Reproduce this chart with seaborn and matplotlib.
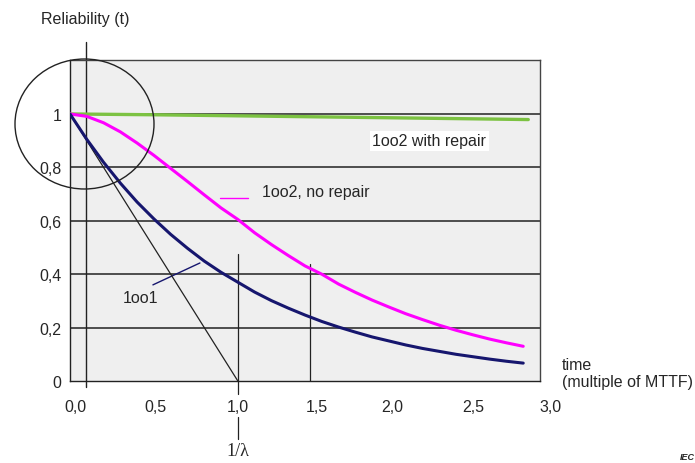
import matplotlib
matplotlib.use("Agg")
import matplotlib.pyplot as plt
from matplotlib.patches import Ellipse
import seaborn as sns

# time in multiples of MTTF
t = [0.0, 0.1, 0.2, 0.3, 0.4, 0.5, 0.6, 0.7, 0.8, 0.9, 1.0, 1.1, 1.2, 1.3,
     1.4, 1.5, 1.6, 1.7, 1.8, 1.9, 2.0, 2.1, 2.2, 2.3, 2.4, 2.5, 2.6, 2.7]
r_1oo1 = [1.000, 0.905, 0.819, 0.741, 0.670, 0.607, 0.549, 0.497, 0.449,
          0.407, 0.370, 0.333, 0.301, 0.273, 0.247, 0.223, 0.202, 0.183,
          0.165, 0.150, 0.135, 0.122, 0.111, 0.100, 0.091, 0.082, 0.074,
          0.067]
r_1oo2 = [1.000, 0.991, 0.967, 0.933, 0.891, 0.845, 0.796, 0.747, 0.697,
          0.648, 0.605, 0.555, 0.511, 0.470, 0.431, 0.400, 0.363, 0.332,
          0.303, 0.277, 0.252, 0.230, 0.209, 0.190, 0.173, 0.157, 0.143,
          0.130]
t_rep = [0.0, 0.5, 1.0, 1.5, 2.0, 2.5, 2.73]
r_rep = [1.0, 0.997, 0.993, 0.989, 0.985, 0.981, 0.979]
t_lin = [0.0, 1.0]
r_lin = [1.0, 0.0]

ytick_vals = [0, 0.2, 0.4, 0.6, 0.8, 1.0]
ytick_lbls = ["0", "0,2", "0,4", "0,6", "0,8", "1"]
xlbl_pos = [0.03, 0.51, 1.0, 1.47, 1.92, 2.40, 2.86]
xlbl_txt = ["0,0", "0,5", "1,0", "1,5", "2,0", "2,5", "3,0"]
minor_x = [i / 10 for i in range(29)]

sns.set_style("white")
plt.rcParams["font.family"] = ["Liberation Sans", "DejaVu Sans"]

fig = plt.figure(figsize=(6.95, 4.64), dpi=100)
ax = fig.add_axes([0.1007, 0.1767, 0.6763, 0.6918])
ax.set_facecolor("#efefef")
ax.set_xlim(0, 2.8)
ax.set_ylim(0, 1.202)

for y in [0.2, 0.4, 0.6, 0.8, 1.0]:
    ax.axhline(y, color="#222222", lw=1.1, zorder=1)

sns.lineplot(x=t_lin, y=r_lin, ax=ax, color="#222222", lw=0.9, zorder=3)
sns.lineplot(x=t_rep, y=r_rep, ax=ax, color="#7cc242", lw=2.4, zorder=4)
sns.lineplot(x=t, y=r_1oo2, ax=ax, color="#ff00ff", lw=2.2, zorder=4)
sns.lineplot(x=t, y=r_1oo1, ax=ax, color="#16166e", lw=2.2, zorder=4)

# helper lines
ax.plot([1.0, 1.0], [0, 0.474], color="#222222", lw=0.9, zorder=2)
ax.plot([1.43, 1.43], [0, 0.44], color="#222222", lw=0.9, zorder=2)
xt = ax.get_xaxis_transform()
ax.plot([0.095, 0.095], [-0.02, 1.056], color="#222222", lw=1.0,
        transform=xt, clip_on=False, zorder=2)
ax.plot([1.0, 1.0], [0, -0.04], color="#222222", lw=0.9,
        transform=xt, clip_on=False)
ax.plot([1.0, 1.0], [-0.112, -0.181], color="#222222", lw=0.9,
        transform=xt, clip_on=False)
ax.text(1.0, -0.215, "1/\u03bb", transform=xt, ha="center", va="center",
        fontsize=13, family=["Liberation Serif", "DejaVu Serif"])

# leaders and labels
ax.plot([0.893, 1.06], [0.685, 0.685], color="#ff00ff", lw=1.0)
ax.plot([0.494, 0.774], [0.36, 0.442], color="#16166e", lw=1.0)
ax.text(1.143, 0.708, "1oo2, no repair", fontsize=11.5, va="center")
ax.text(0.315, 0.311, "1oo1", fontsize=11.5, va="center")
ax.text(2.14, 0.899, "1oo2 with repair", fontsize=11.5, va="center",
        ha="center", bbox=dict(facecolor="white", edgecolor="none", pad=2))

ax.set_yticks(ytick_vals)
ax.set_yticklabels(ytick_lbls)
ax.set_xticks(minor_x)
ax.set_xticklabels([])
ax.tick_params(axis="y", direction="out", length=4, width=1,
               color="#222222", pad=2, labelsize=11.5)
ax.tick_params(axis="x", direction="out", length=3.5, width=1,
               color="#222222")
for p, s in zip(xlbl_pos, xlbl_txt):
    ax.text(p, -0.078, s, transform=xt, ha="center", va="center",
            fontsize=11.5, clip_on=False)

for sp in ax.spines.values():
    sp.set_color("#444444")
    sp.set_linewidth(1.0)
ax.spines["bottom"].set_color("#222222")
ax.spines["left"].set_color("#222222")

fig.add_artist(Ellipse((84.5 / 695, 1 - 125 / 464), 139 / 695, 130 / 464,
                       transform=fig.transFigure, fill=False,
                       edgecolor="#222222", lw=1.0))

fig.text(0.059, 0.957, "Reliability (t)", fontsize=11.5, va="center")
fig.text(0.8086, 0.194, "time\n(multiple of MTTF)", fontsize=11.5,
         va="center", linespacing=1.15)
fig.text(0.978, 0.013, "IEC", fontsize=6.5, style="italic", weight="bold",
         va="center")

fig.savefig("out.png", dpi=100)
